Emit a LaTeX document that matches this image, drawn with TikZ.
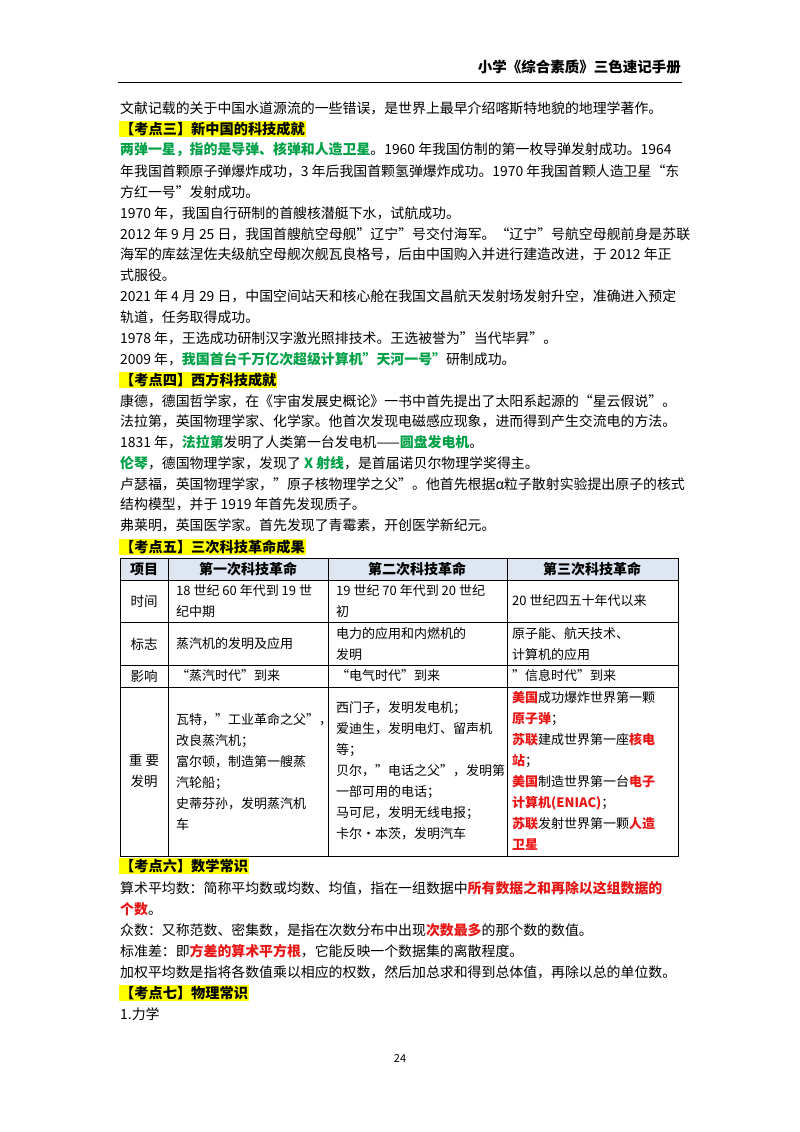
\documentclass[tikz,border=0pt]{standalone}
\usepackage{fontspec}
\setmainfont{Noto Sans CJK SC}
\definecolor{hl}{RGB}{255,255,0}
\definecolor{gr}{RGB}{0,160,70}
\definecolor{rd}{RGB}{235,20,20}
\definecolor{thd}{RGB}{221,230,241}
\newcommand{\gtx}[1]{\textcolor{gr}{\textbf{#1}}}
\newcommand{\rtx}[1]{\textcolor{rd}{\textbf{#1}}}
\tikzset{
 ln/.style={anchor=west,inner sep=0pt,font=\fontsize{13.9}{16}\selectfont},
 hd/.style={anchor=west,inner sep=1pt,fill=hl,font=\fontsize{14.2}{16}\selectfont\bfseries},
 cell/.style={anchor=west,inner sep=0pt,font=\fontsize{13}{21}\selectfont,align=left},
 cellc/.style={inner sep=0pt,font=\fontsize{13.5}{21}\selectfont,align=center},
 th/.style={inner sep=0pt,font=\fontsize{14}{16}\selectfont\bfseries},
}
\begin{document}
\begin{tikzpicture}[x=1pt,y=-1pt]
\useasboundingbox (0,0) rectangle (800,1132);
\node[anchor=east,inner sep=0pt,font=\fontsize{14.5}{16}\selectfont\bfseries] (title) at (681,67) {小学《综合素质》三色速记手册};
\draw[line width=0.8pt] (118,82) -- (682,82);
\node[ln] (l1) at (120,108) {文献记载的关于中国水道源流的一些错误，是世界上最早介绍喀斯特地貌的地理学著作。};
\node[hd] (h3) at (119,129) {【考点三】新中国的科技成就};
\node[ln] (l2) at (120,150) {\gtx{两弹一星，指的是导弹、核弹和人造卫星}。1960 年我国仿制的第一枚导弹发射成功。1964};
\node[ln] (l3) at (120,171) {年我国首颗原子弹爆炸成功，3 年后我国首颗氢弹爆炸成功。1970 年我国首颗人造卫星“东};
\node[ln] (l4) at (120,192) {方红一号”发射成功。};
\node[ln] (l5) at (120,213) {1970 年，我国自行研制的首艘核潜艇下水，试航成功。};
\node[ln] (l6) at (120,234) {2012 年 9 月 25 日，我国首艘航空母舰"辽宁"号交付海军。“辽宁”号航空母舰前身是苏联};
\node[ln] (l7) at (120,254) {海军的库兹涅佐夫级航空母舰次舰瓦良格号，后由中国购入并进行建造改进，于 2012 年正};
\node[ln] (l8) at (120,275) {式服役。};
\node[ln] (l9) at (120,296) {2021 年 4 月 29 日，中国空间站天和核心舱在我国文昌航天发射场发射升空，准确进入预定};
\node[ln] (l10) at (120,317) {轨道，任务取得成功。};
\node[ln] (l11) at (120,338) {1978 年，王选成功研制汉字激光照排技术。王选被誉为"当代毕昇"。};
\node[ln] (l12) at (120,359) {2009 年，\gtx{我国首台千万亿次超级计算机"天河一号"}研制成功。};
\node[hd] (h4) at (119,380) {【考点四】西方科技成就};
\node[ln] (l13) at (120,401) {康德，德国哲学家，在《宇宙发展史概论》一书中首先提出了太阳系起源的“星云假说”。};
\node[ln] (l14) at (120,421) {法拉第，英国物理学家、化学家。他首次发现电磁感应现象，进而得到产生交流电的方法。};
\node[ln] (l15) at (120,442) {1831 年，\gtx{法拉第}发明了人类第一台发电机——\gtx{圆盘发电机}。};
\node[ln] (l16) at (120,463) {\gtx{伦琴}，德国物理学家，发现了 \gtx{X 射线}，是首届诺贝尔物理学奖得主。};
\node[ln] (l17) at (120,484) {卢瑟福，英国物理学家，"原子核物理学之父"。他首先根据α粒子散射实验提出原子的核式};
\node[ln] (l18) at (120,504) {结构模型，并于 1919 年首先发现质子。};
\node[ln] (l19) at (120,525) {弗莱明，英国医学家。首先发现了青霉素，开创医学新纪元。};
\node[hd] (h5) at (119,547) {【考点五】三次科技革命成果};
% table
\fill[thd] (120,558) rectangle (678,580);
\draw[line width=0.7pt] (120,558) rectangle (678,856);
\foreach \yy in {580,622,665,687} \draw[line width=0.5pt] (120,\yy) -- (678,\yy);
\foreach \xx in {168,328,507} \draw[line width=0.5pt] (\xx,558) -- (\xx,856);
\node[th] (t00) at (144,569) {项目};
\node[th] (t01) at (248,569) {第一次科技革命};
\node[th] (t02) at (417,569) {第二次科技革命};
\node[th] (t03) at (592,569) {第三次科技革命};
\node[cellc] (t10) at (144,601) {时间};
\node[cell] (t11) at (176,601) {18 世纪 60 年代到 19 世\\纪中期};
\node[cell] (t12) at (336,601) {19 世纪 70 年代到 20 世纪\\初};
\node[cell] (t13) at (512,601) {20 世纪四五十年代以来};
\node[cellc] (t20) at (144,644) {标志};
\node[cell] (t21) at (176,644) {蒸汽机的发明及应用};
\node[cell] (t22) at (336,644) {电力的应用和内燃机的\\发明};
\node[cell] (t23) at (512,644) {原子能、航天技术、\\计算机的应用};
\node[cellc] (t30) at (144,676) {影响};
\node[cell] (t31) at (176,676) {“蒸汽时代”到来};
\node[cell] (t32) at (336,676) {“电气时代”到来};
\node[cell] (t33) at (512,676) {"信息时代"到来};
\node[cellc] (t40) at (144,771) {重 要\\发明};
\node[cell] (t41) at (176,772) {瓦特，"工业革命之父"，\\改良蒸汽机；\\富尔顿，制造第一艘蒸\\汽轮船；\\史蒂芬孙，发明蒸汽机\\车};
\node[cell] (t42) at (336,771) {西门子，发明发电机；\\爱迪生，发明电灯、留声机\\等；\\贝尔，"电话之父"，发明第\\一部可用的电话；\\马可尼，发明无线电报；\\卡尔·本茨，发明汽车};
\node[cell] (t43) at (512,771) {\rtx{美国}成功爆炸世界第一颗\\\rtx{原子弹}；\\\rtx{苏联}建成世界第一座\rtx{核电}\\\rtx{站}；\\\rtx{美国}制造世界第一台\rtx{电子}\\\rtx{计算机(ENIAC)}；\\\rtx{苏联}发射世界第一颗\rtx{人造}\\\rtx{卫星}};
\node[hd] (h6) at (119,866) {【考点六】数学常识};
\node[ln] (m1) at (120,888) {算术平均数：简称平均数或均数、均值，指在一组数据中\rtx{所有数据之和再除以这组数据的}};
\node[ln] (m2) at (120,909) {\rtx{个数}。};
\node[ln] (m3) at (120,930) {众数：又称范数、密集数，是指在次数分布中出现\rtx{次数最多}的那个数的数值。};
\node[ln] (m4) at (120,951) {标准差：即\rtx{方差的算术平方根}，它能反映一个数据集的离散程度。};
\node[ln] (m5) at (120,972) {加权平均数是指将各数值乘以相应的权数，然后加总求和得到总体值，再除以总的单位数。};
\node[hd] (h7) at (119,993) {【考点七】物理常识};
\node[ln] (m6) at (120,1014) {1.力学};
\node[inner sep=0pt,font=\fontsize{11}{12}\selectfont] (pg) at (400,1058) {24};
\end{tikzpicture}
\end{document}
